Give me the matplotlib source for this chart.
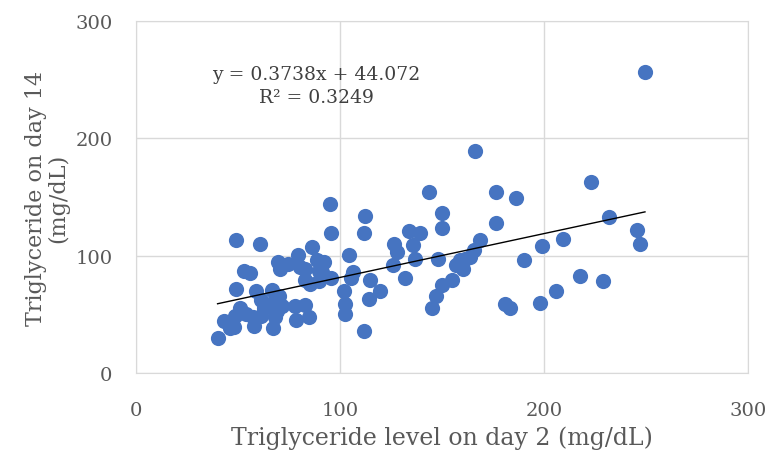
import numpy as np
import matplotlib
matplotlib.use("Agg")
import matplotlib.pyplot as plt

# 数据：第2天与第14天甘油三酯 (mg/dL)
day2 = [40, 43, 46, 48, 48.5, 49, 49, 51, 53, 54, 56, 57.5, 58, 59, 61, 61.5, 61.5, 63,
        65.5, 66.5, 67, 68, 69, 69.5, 70, 70.5, 71.5, 74.5, 78, 78.5, 79.5, 80.5, 83, 83,
        83, 85, 85.5, 86.5, 88.5, 89.5, 89.5, 91, 92, 95, 95.5, 95.5,
        102, 102.5, 102.5, 104.5, 105.5, 106.5, 112, 112, 112.5, 114, 114.5, 119.5, 126,
        126.5, 128, 132, 134, 136, 137, 139, 143.5, 145, 147, 148, 150, 150, 150, 155,
        157, 159, 160.5, 161.5, 163.5, 165.5, 166, 168.5, 176.5, 176.5, 181, 183.5, 186.5,
        190, 198, 199, 206, 209.5, 217.5, 223, 229, 232, 245.5, 247, 249.5]
day14 = [30, 44, 38, 39, 49, 72, 113, 55, 87, 50, 85, 48, 40, 70, 110, 62, 49, 55,
         59, 71, 38, 48, 53, 95, 66, 89, 57, 93, 57, 45, 101, 90, 89, 79,
         58, 48, 76, 107, 96, 87, 78, 86, 95, 144, 119, 81,
         70, 59, 50, 101, 81, 86, 36, 119, 134, 63, 79, 70, 92,
         110, 103, 81, 121, 109, 97, 119, 154, 55, 66, 97, 136, 124, 75, 79,
         92, 96, 89, 97, 99, 105, 189, 113, 154, 128, 59, 55, 149,
         96, 60, 108, 70, 114, 83, 163, 78, 133, 122, 110, 257]

# 近似直线参数（图中标注）
slope = 0.3738
intercept = 44.072
eq_text = "y = 0.3738x + 44.072"
r2_text = "R² = 0.3249"

x_ticks = [0, 100, 200, 300]
y_ticks = [0, 100, 200, 300]

gray = "#595959"
plt.rcParams['font.family'] = ['DejaVu Serif']

fig = plt.figure(figsize=(7.66, 4.6), dpi=100)
ax = fig.add_axes([0.1775, 0.187, 0.799, 0.765])

ax.scatter(day2, day14, s=120, color="#4674C1", zorder=3, linewidths=0)

# 趋势线
xs = np.array([min(day2), max(day2)])
ax.plot(xs, slope * xs + intercept, color="black", linewidth=1, zorder=4)

ax.set_xlim(0, 300)
ax.set_ylim(0, 300)
ax.set_xticks(x_ticks)
ax.set_yticks(y_ticks)
ax.grid(True, color="#D9D9D9", linewidth=1)
ax.set_axisbelow(True)
for sp in ax.spines.values():
    sp.set_color("#D9D9D9")
ax.tick_params(length=0, labelsize=14, labelcolor=gray)
ax.tick_params(axis='x', pad=20)
ax.tick_params(axis='y', pad=17)

ax.set_xlabel("Triglyceride level on day 2 (mg/dL)", fontsize=17, color=gray, labelpad=5)
ax.set_ylabel("Triglyceride on day 14\n(mg/dL)", fontsize=16, color=gray, labelpad=4,
              linespacing=1.0)

ax.text(0.295, 0.85, eq_text, transform=ax.transAxes, ha='center', va='center',
        fontsize=13.5, color="#404040")
ax.text(0.295, 0.785, r2_text, transform=ax.transAxes, ha='center', va='center',
        fontsize=13.5, color="#404040")

fig.savefig("out.png", dpi=100)
